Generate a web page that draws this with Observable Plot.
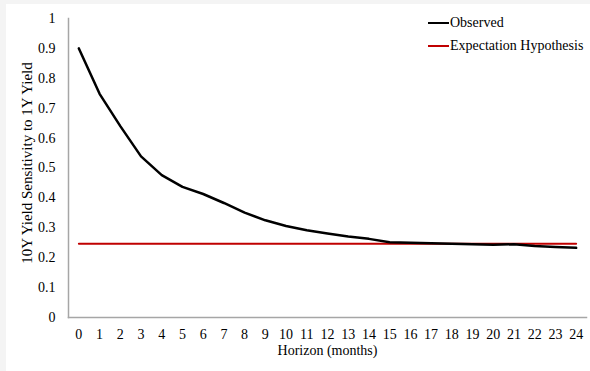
<!DOCTYPE html>
<html>
<head>
<meta charset="utf-8">
<script src="https://cdn.jsdelivr.net/npm/d3@7"></script>
<script src="https://cdn.jsdelivr.net/npm/@observablehq/plot@0.6"></script>
<style>
  html, body { margin: 0; padding: 0; background: #f4f4f4; }
  #wrap { position: absolute; left: 6px; top: 4px; width: 584px; height: 367px; background: #fff; }
  #chart { position: absolute; left: -6px; top: -4px; }
  #chart svg text { font-family: "Liberation Serif", "Times New Roman", serif; font-size: 14px; fill: #000; }
  #chart svg text.ytitle { font-size: 15px; }
  .legend { position: absolute; font-family: "Liberation Serif", "Times New Roman", serif; font-size: 14px; color: #000; }
  .legend .item { position: absolute; white-space: nowrap; display: flex; align-items: center; height: 16px; }
  .legend .sw { display: inline-block; width: 21px; height: 0; margin-right: 1px; }
</style>
</head>
<body>
<div id="wrap"><div id="chart"></div>
<div class="legend" id="legend"></div></div>
<script>
const horizons = d3.range(0, 25);
const observed = [0.900, 0.748, 0.640, 0.539, 0.476, 0.437, 0.413, 0.383, 0.351, 0.325, 0.306, 0.292, 0.281, 0.271, 0.263, 0.252, 0.250, 0.248, 0.247, 0.245, 0.243, 0.245, 0.239, 0.236, 0.233];
const expectationValue = 0.247;
const yTicks = [0, 0.1, 0.2, 0.3, 0.4, 0.5, 0.6, 0.7, 0.8, 0.9, 1];
const seriesNames = ["Observed", "Expectation Hypothesis"];
const seriesColors = ["#000000", "#c00000"];

const obsData = horizons.map((h, i) => ({h, v: observed[i]}));
const ehData = horizons.map(h => ({h, v: expectationValue}));

const chart = Plot.plot({
  width: 590,
  height: 371,
  marginLeft: 68,
  marginRight: 4,
  marginTop: 18,
  marginBottom: 54,
  style: {fontFamily: "'Liberation Serif', 'Times New Roman', serif", fontSize: "14px", color: "#000", background: "transparent", overflow: "visible"},
  x: {type: "point", domain: horizons, padding: 0.5, round: false},
  y: {domain: [0, 1]},
  marks: [
    Plot.frame({anchor: "left", stroke: "#a6a6a6", strokeWidth: 1.5, strokeOpacity: 1}),
    Plot.frame({anchor: "bottom", stroke: "#a6a6a6", strokeWidth: 1.5, strokeOpacity: 1}),
    Plot.axisY({ticks: yTicks, tickSize: 0, tickPadding: 13, tickFormat: d => String(d), label: null}),
    Plot.axisX({tickSize: 0, tickPadding: 12, label: null}),
    Plot.text(["10Y Yield Sensitivity to 1Y Yield"], {frameAnchor: "left", textAnchor: "middle", dx: -41, dy: -5, rotate: -90, text: d => d, className: "ytitle"}),
    Plot.text(["Horizon (months)"], {frameAnchor: "bottom", textAnchor: "middle", dy: 37, text: d => d}),
    Plot.line(ehData, {x: "h", y: "v", stroke: seriesColors[1], strokeWidth: 2}),
    Plot.line(obsData, {x: "h", y: "v", stroke: seriesColors[0], strokeWidth: 2.5})
  ]
});
document.getElementById("chart").appendChild(chart);
chart.querySelectorAll("g.ytitle text, text.ytitle").forEach(t => t.classList.add("ytitle"));

const legend = document.getElementById("legend");
seriesNames.forEach((name, i) => {
  const item = document.createElement("div");
  item.className = "item";
  item.style.left = (428 - 6) + "px";
  item.style.top = (23 + i * 23 - 8 - 4) + "px";
  const sw = document.createElement("span");
  sw.className = "sw";
  sw.style.borderTop = `2.5px solid ${seriesColors[i]}`;
  item.appendChild(sw);
  const t = document.createElement("span");
  t.textContent = name;
  item.appendChild(t);
  legend.appendChild(item);
});
</script>
</body>
</html>
